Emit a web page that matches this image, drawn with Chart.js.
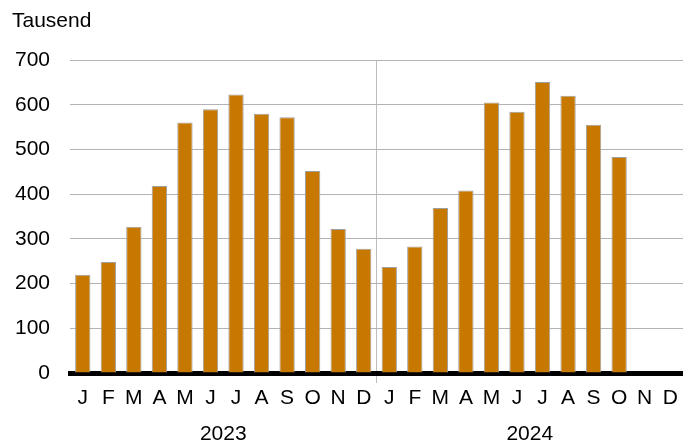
<!DOCTYPE html>
<html>
<head>
<meta charset="utf-8">
<script src="https://cdn.jsdelivr.net/npm/chart.js@4/dist/chart.umd.min.js"></script>
<style>
  html, body { margin: 0; padding: 0; background: #fff; }
  #wrap { width: 683px; height: 443px; }
</style>
</head>
<body>
<div id="wrap"><canvas id="chart"></canvas></div>
<script>
// Monatswerte in Tausend
const months = ['J', 'F', 'M', 'A', 'M', 'J', 'J', 'A', 'S', 'O', 'N', 'D'];
const years = ['2023', '2024'];
const values2023 = [220, 248, 327, 418, 560, 590, 623, 580, 572, 452, 322, 278];
const values2024 = [237, 283, 369, 408, 605, 584, 651, 620, 555, 483, null, null];
const yTicks = [0, 100, 200, 300, 400, 500, 600, 700];

const FONT = '"Liberation Sans", Arial, sans-serif';

// Beschriftung "Tausend" und Jahreszahlen
const extraText = {
    id: 'extraText',
    afterDraw(chart) {
        const ctx = chart.ctx;
        const x = chart.scales.x;
        ctx.save();
        ctx.fillStyle = '#000';
        ctx.font = '21px ' + FONT;
        ctx.textBaseline = 'middle';
        ctx.textAlign = 'left';
        ctx.fillText('Tausend', 12, 21);
        ctx.textAlign = 'center';
        years.forEach((yr, i) => {
            const cx = (x.getPixelForValue(i * 12 + 5) + x.getPixelForValue(i * 12 + 6)) / 2;
            ctx.fillText(yr, cx, 434);
        });
        ctx.restore();
    }
};

new Chart(document.getElementById('chart'), {
    type: 'bar',
    data: {
        labels: months.concat(months),
        datasets: [{
            data: values2023.concat(values2024),
            backgroundColor: '#C77800',
            borderColor: '#a0a0a0',
            borderWidth: 1,
            barPercentage: 0.6,
            categoryPercentage: 1.0
        }]
    },
    options: {
        responsive: true,
        maintainAspectRatio: false,
        animation: false,
        layout: { padding: { top: 60, right: 0, bottom: 0, left: 0 } },
        plugins: {
            legend: { display: false },
            tooltip: { enabled: false }
        },
        scales: {
            x: {
                z: 1,
                offset: true,
                grid: {
                    offset: true,
                    color: (c) => c.index === 12 ? '#bdbdbd' : 'rgba(0,0,0,0)',
                    lineWidth: 1,
                    tickLength: 10
                },
                border: { display: true, color: '#000', width: 5 },
                ticks: {
                    color: '#000',
                    font: { family: FONT, size: 21 },
                    padding: 3,
                    maxRotation: 0,
                    autoSkip: false
                },
                afterFit: (s) => { s.height = 70; }
            },
            y: {
                min: 0,
                max: 700,
                afterBuildTicks: (s) => { s.ticks = yTicks.map(v => ({ value: v })); },
                grid: {
                    color: (c) => c.tick && c.tick.value === 0 ? 'rgba(0,0,0,0)' : '#b3b3b3',
                    drawTicks: false
                },
                border: { display: false },
                ticks: {
                    color: '#000',
                    font: { family: FONT, size: 21 },
                    padding: 20
                },
                afterFit: (s) => { s.width = 70; }
            }
        }
    },
    plugins: [extraText]
});
</script>
</body>
</html>
